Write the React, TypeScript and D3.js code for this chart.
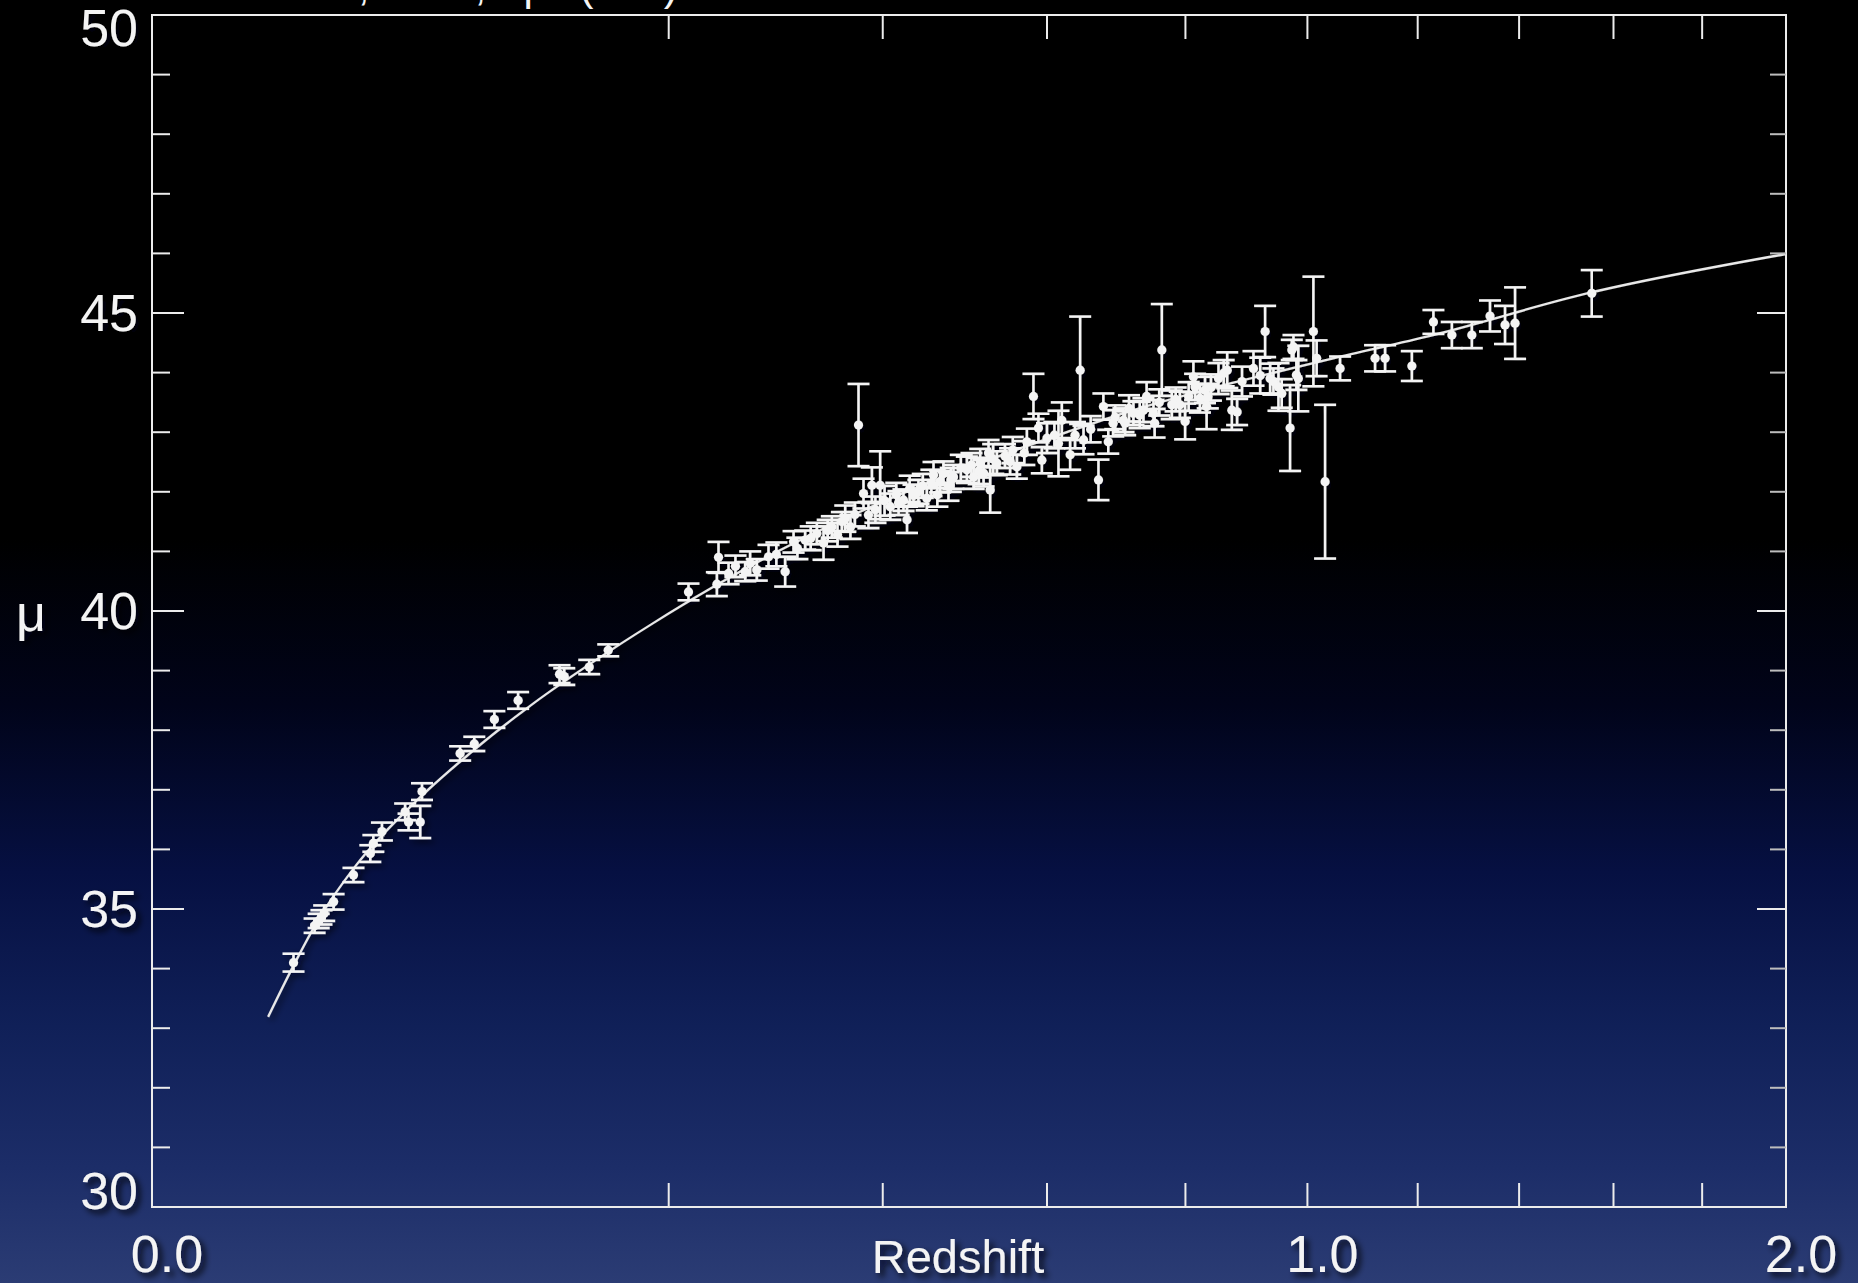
import React from 'react';
import * as d3 from 'd3';

// Hubble diagram of type Ia supernovae: distance modulus vs redshift

const WIDTH = 1858;
const HEIGHT = 1283;

// [redshift, distance modulus, 1-sigma error]
const supernovae: [number, number, number][] = [
  [0.015, 34.1, 0.15], [0.0198, 34.72, 0.12], [0.0208, 34.8, 0.12], [0.0215, 34.86, 0.12],
  [0.0222, 34.93, 0.13], [0.0247, 35.12, 0.13], [0.0304, 35.57, 0.12], [0.0357, 35.93, 0.14],
  [0.0367, 36.1, 0.14], [0.0396, 36.3, 0.15], [0.048, 36.63, 0.14], [0.0493, 36.46, 0.14],
  [0.0539, 36.46, 0.27], [0.0546, 36.97, 0.14], [0.0711, 37.61, 0.12], [0.0778, 37.77, 0.12],
  [0.0878, 38.18, 0.14], [0.1004, 38.5, 0.14], [0.1244, 38.94, 0.15], [0.1273, 38.9, 0.14],
  [0.1432, 39.06, 0.12], [0.1559, 39.34, 0.1],
  [0.2156, 40.32, 0.14], [0.239, 40.45, 0.2], [0.2404, 40.9, 0.26], [0.249, 40.63, 0.18],
  [0.255, 40.75, 0.18], [0.2636, 40.66, 0.16], [0.268, 40.8, 0.2], [0.274, 40.69, 0.18],
  [0.2847, 40.91, 0.2], [0.292, 40.95, 0.2], [0.3003, 40.66, 0.25], [0.3083, 41.16, 0.18],
  [0.312, 41.05, 0.18], [0.3196, 41.19, 0.16], [0.325, 41.22, 0.2], [0.3311, 41.3, 0.18],
  [0.3378, 41.14, 0.28], [0.342, 41.35, 0.18], [0.3462, 41.41, 0.18], [0.352, 41.28, 0.2],
  [0.3565, 41.5, 0.16], [0.36, 41.55, 0.22], [0.3654, 41.41, 0.2], [0.37, 41.62, 0.2],
  [0.3739, 43.12, 0.69], [0.3792, 41.97, 0.25], [0.3845, 41.61, 0.22], [0.3882, 42.11, 0.3],
  [0.392, 41.7, 0.22], [0.3972, 42.11, 0.57], [0.402, 41.85, 0.25], [0.4083, 41.75, 0.22],
  [0.415, 41.95, 0.2], [0.4175, 41.81, 0.2], [0.423, 41.86, 0.18], [0.427, 41.53, 0.22],
  [0.43, 42.05, 0.22], [0.4344, 41.94, 0.18], [0.44, 42.0, 0.2], [0.445, 42.1, 0.2],
  [0.4497, 41.89, 0.2], [0.455, 42.15, 0.22], [0.4575, 42.28, 0.22], [0.462, 41.95, 0.2],
  [0.4653, 42.17, 0.18], [0.4692, 42.31, 0.2], [0.4752, 42.09, 0.24], [0.478, 42.2, 0.2],
  [0.4812, 42.25, 0.2], [0.49, 42.4, 0.22], [0.4974, 42.37, 0.22], [0.503, 42.45, 0.2],
  [0.5057, 42.25, 0.2], [0.512, 42.35, 0.22], [0.5138, 42.48, 0.24], [0.518, 42.31, 0.22],
  [0.5242, 42.65, 0.22], [0.5263, 42.03, 0.38], [0.53, 42.55, 0.25], [0.5347, 42.48, 0.2],
  [0.545, 42.6, 0.2], [0.5516, 42.51, 0.22], [0.555, 42.7, 0.22], [0.5603, 42.42, 0.2],
  [0.57, 42.65, 0.2], [0.5733, 42.84, 0.22], [0.582, 43.6, 0.38], [0.5886, 43.07, 0.24],
  [0.5931, 42.53, 0.22], [0.6, 42.9, 0.25], [0.61, 42.95, 0.22], [0.6155, 42.81, 0.55],
  [0.62, 43.2, 0.3], [0.6315, 42.62, 0.25], [0.6382, 42.95, 0.22], [0.6453, 44.04, 0.9],
  [0.65, 42.87, 0.24], [0.66, 43.05, 0.22], [0.671, 42.2, 0.34], [0.678, 43.43, 0.22],
  [0.685, 42.84, 0.2], [0.692, 43.15, 0.22], [0.695, 43.25, 0.2], [0.7069, 43.2, 0.2],
  [0.7093, 43.15, 0.2], [0.715, 43.4, 0.22], [0.7215, 43.32, 0.2], [0.7308, 43.29, 0.22],
  [0.7363, 43.37, 0.2], [0.741, 43.6, 0.24], [0.7513, 43.32, 0.22], [0.753, 43.15, 0.24],
  [0.76, 43.5, 0.22], [0.7638, 44.38, 0.77], [0.779, 43.46, 0.24], [0.785, 43.55, 0.2],
  [0.7914, 43.46, 0.22], [0.7995, 43.18, 0.3], [0.805, 43.6, 0.24], [0.8124, 43.93, 0.26],
  [0.815, 43.76, 0.22], [0.8226, 43.57, 0.24], [0.8306, 43.71, 0.22], [0.8331, 43.43, 0.38],
  [0.835, 43.6, 0.2], [0.84, 43.75, 0.22], [0.852, 43.9, 0.26], [0.8603, 43.99, 0.22],
  [0.866, 44.04, 0.3], [0.8734, 43.37, 0.33], [0.882, 43.34, 0.22], [0.89, 43.85, 0.25],
  [0.9088, 44.07, 0.29], [0.92, 43.95, 0.3], [0.9281, 44.69, 0.43], [0.9366, 43.9, 0.25],
  [0.942, 43.85, 0.22], [0.9505, 43.76, 0.4], [0.956, 43.65, 0.24], [0.9702, 43.07, 0.72],
  [0.9731, 44.38, 0.17], [0.976, 44.43, 0.2], [0.981, 43.96, 0.25], [0.9843, 43.9, 0.55],
  [1.0104, 44.69, 0.92], [1.016, 44.24, 0.3], [1.0308, 42.17, 1.29], [1.0573, 44.07, 0.2],
  [1.1205, 44.24, 0.22], [1.139, 44.24, 0.22], [1.1889, 44.11, 0.25], [1.23, 44.85, 0.2],
  [1.2656, 44.63, 0.22], [1.3048, 44.63, 0.22], [1.341, 44.95, 0.26], [1.3713, 44.8, 0.32],
  [1.3917, 44.83, 0.6], [1.5527, 45.33, 0.39],
];

// model curve: [redshift, distance modulus]
const modelCurve: [number, number][] = [
  [0.0101, 33.19], [0.015, 34.05], [0.021, 34.85], [0.031, 35.72], [0.052, 36.8],
  [0.078, 37.68], [0.109, 38.45], [0.146, 39.15], [0.187, 39.78], [0.234, 40.38],
  [0.286, 40.93], [0.344, 41.43], [0.407, 41.88], [0.475, 42.28], [0.548, 42.65],
  [0.627, 43.0], [0.71, 43.33], [0.8, 43.62], [0.876, 43.83], [1.045, 44.24],
  [1.229, 44.63], [1.549, 45.34], [2.0, 45.99],
];

const redshiftTicks = [0.2, 0.4, 0.6, 0.8, 1.0, 1.2, 1.4, 1.6, 1.8];
const redshiftLabelValues = [0, 1, 2];
const redshiftLabels = ['0.0', '1.0', '2.0'];
const muLabelValues = [30, 35, 40, 45, 50];

const FONT = '"Liberation Sans", Arimo, Helvetica, Arial, sans-serif';
const INK = '#f4f4f4';

export default function App() {
  const left = 152;
  const right = 1786;
  const top = 15;
  const bottom = 1207;

  const x = d3.scaleSqrt().domain([0, 2]).range([left, right]);
  const y = d3.scaleLinear().domain([30, 50]).range([bottom, top]);

  const line = d3
    .line<[number, number]>()
    .x((d) => x(d[0]))
    .y((d) => y(d[1]))
    .curve(d3.curveMonotoneX);

  const minorMu = y.ticks(20).filter((v) => !muLabelValues.includes(v) && v > 30 && v < 50);
  const majorMu = muLabelValues.filter((v) => v > 30 && v < 50);

  const capHalf = 11;

  return (
    <div style={{ position: 'fixed', left: 0, top: 0 }}>
      <svg width={WIDTH} height={HEIGHT} style={{ display: 'block' }}>
        <defs>
          <linearGradient id="bg" x1="0" y1="0" x2="0" y2="1">
            <stop offset="0" stopColor="#000000" />
            <stop offset="0.42" stopColor="#000000" />
            <stop offset="0.55" stopColor="#01041a" />
            <stop offset="0.68" stopColor="#061042" />
            <stop offset="0.8" stopColor="#102058" />
            <stop offset="0.91" stopColor="#1c2d68" />
            <stop offset="1" stopColor="#2b3c74" />
          </linearGradient>
          <filter id="shadow" x="-20%" y="-20%" width="140%" height="140%">
            <feDropShadow dx="4" dy="4" stdDeviation="3" floodColor="#000010" floodOpacity="0.85" />
          </filter>
          <filter id="markShadow" x="-5%" y="-5%" width="110%" height="110%">
            <feDropShadow dx="3" dy="3" stdDeviation="3" floodColor="#000008" floodOpacity="0.7" />
          </filter>
        </defs>

        <rect x={0} y={0} width={WIDTH} height={HEIGHT} fill="url(#bg)" />

        {/* citation line along the top edge, mostly cropped */}
        <text x={150} y={0} fill={INK} fontFamily={FONT} fontSize={42}>
          Riess et al., 2004, ApJ (607)
        </text>

        <g filter="url(#markShadow)">
          <path d={line(modelCurve) ?? ''} fill="none" stroke="#e8e8e8" strokeWidth={2.3} />
          {supernovae.map(([z, mu, err], i) => {
            const cx = x(z);
            const y1 = y(mu + err);
            const y2 = y(mu - err);
            return (
              <g key={i} stroke={INK} strokeWidth={2.6}>
                <line x1={cx} x2={cx} y1={y1} y2={y2} />
                <line x1={cx - capHalf} x2={cx + capHalf} y1={y1} y2={y1} />
                <line x1={cx - capHalf} x2={cx + capHalf} y1={y2} y2={y2} />
                <circle cx={cx} cy={y(mu)} r={4.6} fill={INK} stroke="none" />
              </g>
            );
          })}
        </g>

        {/* frame and ticks */}
        <g stroke="#ececec" strokeWidth={2} fill="none">
          <rect x={left} y={top} width={right - left} height={bottom - top} />
          {redshiftTicks.map((v) => (
            <g key={`xt${v}`}>
              <line x1={x(v)} x2={x(v)} y1={bottom} y2={bottom - 24} />
              <line x1={x(v)} x2={x(v)} y1={top} y2={top + 24} />
            </g>
          ))}
          {majorMu.map((v) => (
            <g key={`ym${v}`}>
              <line x1={left} x2={left + 32} y1={y(v)} y2={y(v)} />
              <line x1={right} x2={right - 29} y1={y(v)} y2={y(v)} />
            </g>
          ))}
          {minorMu.map((v) => (
            <g key={`yn${v}`}>
              <line x1={left} x2={left + 18} y1={y(v)} y2={y(v)} />
              <line x1={right} x2={right - 16} y1={y(v)} y2={y(v)} stroke="#bdbdbd" />
            </g>
          ))}
        </g>

        <g fill={INK} fontFamily={FONT} filter="url(#shadow)">
          {muLabelValues.map((v) => (
            <text
              key={`yl${v}`}
              x={138}
              y={Math.min(Math.max(y(v), top + 13), bottom - 16)}
              fontSize={52}
              textAnchor="end"
              dominantBaseline="central"
            >
              {String(v)}
            </text>
          ))}
          {redshiftLabelValues.map((v, i) => (
            <text key={`xl${v}`} x={x(v) + 15} y={1272} fontSize={52} textAnchor="middle">
              {redshiftLabels[i]}
            </text>
          ))}
          <text x={958} y={1273} fontSize={47} textAnchor="middle">
            Redshift
          </text>
          <text x={16} y={631} fontSize={52}>
            μ
          </text>
        </g>
      </svg>
    </div>
  );
}
